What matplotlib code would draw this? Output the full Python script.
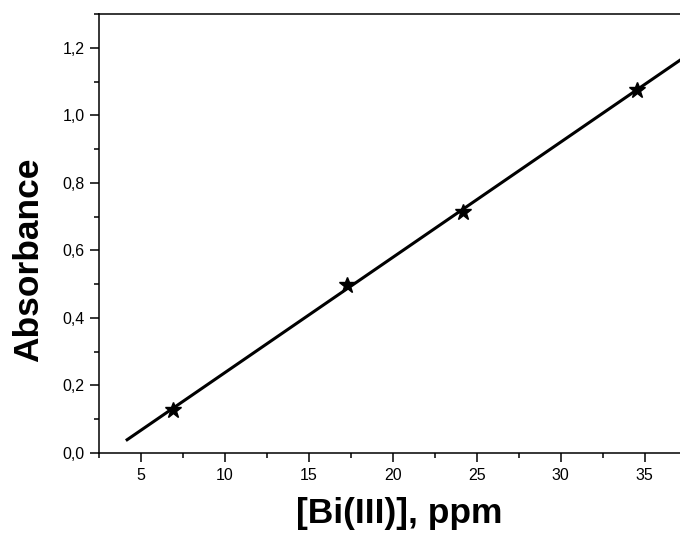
import matplotlib
matplotlib.use("Agg")
import matplotlib.pyplot as plt
from matplotlib.ticker import MultipleLocator, FuncFormatter
import numpy as np

plt.rcParams["font.family"] = ["Liberation Sans", "DejaVu Sans"]

# calibration data
conc = [6.9, 17.25, 24.15, 34.55]          # [Bi(III)], ppm
absorb = [0.128, 0.496, 0.715, 1.076]       # absorbance
fit_range = [4.1, 38.0]                     # span of the fitted line

slope, icpt = np.polyfit(conc, absorb, 1)
fit_x = np.array(fit_range)
fit_y = slope * fit_x + icpt

fig = plt.figure(figsize=(6.8, 5.36), dpi=100)
ax = fig.add_axes([0.1456, 0.1549, 0.8544, 0.8190])

ax.plot(fit_x, fit_y, color="black", lw=2.2, solid_capstyle="butt", zorder=2)
ax.plot(conc, absorb, ls="none", marker="*", ms=12, color="black", zorder=3)

ax.set_xlim(2.5, 37.1)
ax.set_ylim(0, 1.30)
ax.xaxis.set_major_locator(MultipleLocator(5))
ax.xaxis.set_minor_locator(MultipleLocator(2.5))
ax.yaxis.set_major_locator(MultipleLocator(0.2))
ax.yaxis.set_minor_locator(MultipleLocator(0.1))
ax.yaxis.set_major_formatter(FuncFormatter(lambda v, p: f"{v:.1f}".replace(".", ",")))

ax.tick_params(which="major", direction="out", length=6.5, width=1.1, labelsize=11.5, pad=4)
ax.tick_params(which="minor", direction="out", length=3.6, width=1.1)
for s in ax.spines.values():
    s.set_linewidth(1.1)
ax.spines["right"].set_visible(False)

ax.set_xlabel("[Bi(III)], ppm", fontsize=25.5, fontweight="bold")
ax.set_ylabel("Absorbance", fontsize=25.5, fontweight="bold")
ax.xaxis.set_label_coords(0.516, -0.1)
ax.yaxis.set_label_coords(-0.092, 0.44)

fig.savefig("out.png", dpi=100)
